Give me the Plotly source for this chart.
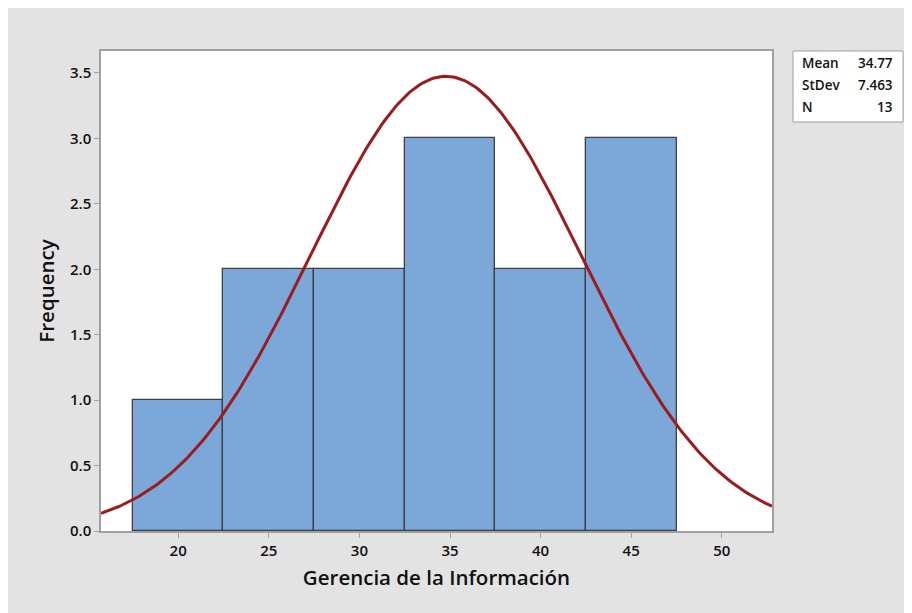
import numpy as np
import plotly.graph_objects as go

# histogram bins (midpoints, width 5) and counts
bin_mids = [20, 25, 30, 35, 40, 45]
counts = [1, 2, 2, 3, 2, 3]
bin_width = 5

# fitted normal shown in the stats box
mean = 34.77
stdev = 7.463
n_obs = 13

stat_labels = ['Mean', 'StDev', 'N']
stat_values = ['34.77', '7.463', '13']

BAR_COLOR = '#7ba7d9'
CURVE_COLOR = '#9c1b1f'
BG_GRAY = '#e3e3e3'
FONT = 'Open Sans'

x_range = [15.74, 52.77]
y_range = [0, 3.668]

# normal curve scaled to counts
xs = np.linspace(x_range[0], x_range[1], 300)
ys = n_obs * bin_width * np.exp(-0.5 * ((xs - mean) / stdev) ** 2) / (stdev * np.sqrt(2 * np.pi))

fig = go.Figure()
fig.add_trace(
    go.Bar(
        x=bin_mids,
        y=counts,
        width=bin_width,
        marker=dict(color=BAR_COLOR, line=dict(color='#404040', width=1.3)),
        hoverinfo='x+y',
    )
)
fig.add_trace(
    go.Scatter(
        x=xs,
        y=ys,
        mode='lines',
        line=dict(color=CURVE_COLOR, width=3),
        hoverinfo='skip',
    )
)

# page body adds an 8px offset; figure is 904x605
L, R, T, B = 93, 140, 43, 82
W, H = 904, 605
pw, ph = W - L - R, H - T - B
OFF = 8


def px_x(p):
    return (p - OFF - L) / pw


def px_y(p):
    return (H - B - (p - OFF)) / ph


shapes = [
    # stats box
    dict(type='rect', xref='paper', yref='paper',
         x0=px_x(793), x1=px_x(903), y0=px_y(122), y1=px_y(51),
         fillcolor='white', line=dict(color='#a0a0a0', width=1)),
]

annotations = []
for i, (lab, val) in enumerate(zip(stat_labels, stat_values)):
    yy = px_y(63 + i * 22)
    annotations.append(dict(xref='paper', yref='paper', x=px_x(800), y=yy,
                            text=lab, showarrow=False, xanchor='left', yanchor='middle',
                            font=dict(family=FONT, size=13.5, color='#111111', weight=600)))
    annotations.append(dict(xref='paper', yref='paper', x=px_x(895), y=yy,
                            text=val, showarrow=False, xanchor='right', yanchor='middle',
                            font=dict(family=FONT, size=13.5, color='#111111', weight=600)))

fig.update_layout(
    width=W,
    height=H,
    margin=dict(l=L, r=R, t=T, b=B),
    paper_bgcolor=BG_GRAY,
    plot_bgcolor='white',
    showlegend=False,
    bargap=0,
    shapes=shapes,
    annotations=annotations,
    font=dict(family=FONT, color='#111111'),
    xaxis=dict(
        range=x_range,
        tickvals=[20, 25, 30, 35, 40, 45, 50],
        ticks='outside', ticklen=5, tickcolor='#a0a0a0',
        showline=True, linecolor='#a0a0a0', linewidth=1.5, mirror=True,
        showgrid=False, zeroline=False,
        tickfont=dict(size=15, weight=600),
        title=dict(text='Gerencia de la Información', standoff=12,
                   font=dict(size=20.5, weight=600)),
    ),
    yaxis=dict(
        range=y_range,
        tickvals=[0, 0.5, 1, 1.5, 2, 2.5, 3, 3.5],
        tickformat='.1f',
        ticks='outside', ticklen=5, tickcolor='#a0a0a0',
        showline=True, linecolor='#a0a0a0', linewidth=1.5, mirror=True,
        showgrid=False, zeroline=False,
        tickfont=dict(size=15, weight=600),
        title=dict(text='Frequency', standoff=10,
                   font=dict(size=20.5, weight=600)),
    ),
)

fig.write_html("out.html")
